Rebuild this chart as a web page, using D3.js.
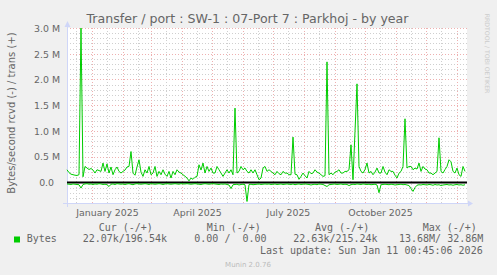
<!DOCTYPE html>
<html><head><meta charset="utf-8">
<script src="https://cdn.jsdelivr.net/npm/d3@7"></script>
<style>
html,body{margin:0;padding:0;background:#f0f0f0;}
svg{display:block;}
text{font-family:"DejaVu Sans";fill:#666666;}
.mono{font-family:"DejaVu Sans Mono";white-space:pre;}
</style></head><body>
<svg id="c" width="497" height="275"></svg>
<script>
// ---------- data ----------
const startDate = new Date(Date.UTC(2024, 11, 7, 0, 45, 6));
const spanDays = 400;
const dayStep = 2; // one sample every 2 days, starting at day 0
// trans (+), in k bytes/s
const trans = [
 246,190,160,150,140,135,150,3000,110,310,
 280,250,270,240,182,246,230,214,376,214,
 360,182,300,150,246,300,214,182,214,240,
 300,310,600,180,140,300,440,200,117,246,
 182,310,149,182,310,117,214,149,246,160,
 117,214,85,214,149,246,200,182,149,120,
 85,30,85,60,100,117,343,240,376,182,
 310,214,279,182,182,310,246,182,117,182,
 246,182,246,149,1443,182,214,310,246,279,
 214,182,246,182,246,149,52,85,279,310,
 214,246,214,182,149,214,170,149,214,180,
 182,150,149,880,160,149,60,117,182,130,
 85,214,170,182,246,200,182,150,117,130,
 2342,150,182,149,200,214,246,182,182,214,
 214,246,731,52,990,1915,310,214,182,250,
 376,182,214,149,200,279,182,182,310,200,
 149,246,214,214,140,85,180,214,310,1236,
 279,310,310,246,279,260,376,214,310,260,
 246,182,182,149,182,214,867,214,182,250,
 310,440,400,214,182,279,149,117,310,214
];
// rcvd (-), in k bytes/s (drawn negative)
const rcvd = [
 30,35,40,30,35,40,45,110,40,30,
 25,35,30,40,30,35,25,30,40,35,
 45,80,35,30,40,25,30,35,30,40,
 30,25,35,45,30,25,30,35,30,25,
 30,40,25,30,35,30,25,30,40,30,
 25,30,35,30,25,30,35,25,30,30,
 25,30,35,30,25,30,35,40,30,25,
 30,35,30,25,30,35,40,30,35,30,
 40,50,120,45,40,35,50,40,35,45,
 370,40,35,45,40,35,30,40,35,30,
 35,30,40,35,30,40,35,30,40,35,
 30,35,40,30,45,35,30,40,35,30,
 35,40,50,40,35,45,30,35,40,60,
 80,45,40,35,30,40,35,30,40,35,
 40,60,45,35,40,30,35,40,30,35,
 40,35,45,40,35,50,200,45,40,35,
 40,45,35,40,50,45,40,35,45,40,
 50,60,120,175,100,55,45,50,40,45,
 50,40,45,55,40,50,45,60,50,45,
 40,50,45,55,45,40,50,45,55,45
];
const yTickValues = [0, 500000, 1000000, 1500000, 2000000, 2500000, 3000000];
const xLabelMonths = ["2025-01-01", "2025-04-01", "2025-07-01", "2025-10-01"];
const titleText = "Transfer / port : SW-1 : 07-Port 7 : Parkhoj - by year";
const yAxisTitle = "Bytes/second rcvd (-) / trans (+)";
const legendHeaders = ["Cur (-/+)", "Min (-/+)", "Avg (-/+)", "Max (-/+)"];
const legendName = "Bytes";
const legendValues = ["22.07k/196.54k", "0.00 /  0.00", "22.63k/215.24k", "13.68M/ 32.86M"];
const lastUpdate = "Last update: Sun Jan 11 00:45:06 2026";
const footer = "Munin 2.0.76";
const sideText = "RRDTOOL / TOBI OETIKER";

// ---------- layout ----------
const L = 67, R = 467, T = 28, B = 203;
const GREEN = "#00CC00", AXIS = "#CFD6F8";
const endDate = d3.utcDay.offset(startDate, spanDays);
const dateOf = i => d3.utcDay.offset(startDate, i * dayStep);

const x = d3.scaleUtc().domain([startDate, endDate]).range([L, R]);
const y = d3.scaleLinear().domain([-400000, 3000000]).range([B, T]);

const svg = d3.select("#c");
svg.append("rect").attr("width", 497).attr("height", 275).attr("fill", "#f0f0f0");
svg.append("rect").attr("x", L).attr("y", T).attr("width", R - L).attr("height", B - T).attr("fill", "#ffffff");

const grid = svg.append("g");
// minor horizontal
d3.range(-400000, 3000001, 100000).filter(v => v % 500000 !== 0 && v > -400000).forEach(v => {
  grid.append("line").attr("x1", L).attr("x2", R).attr("y1", Math.round(y(v)) + 0.5).attr("y2", Math.round(y(v)) + 0.5)
    .attr("stroke", "#cfcfcf").attr("stroke-dasharray", "1,2");
});
// minor vertical (mid-month)
d3.utcMonth.range(startDate, endDate).map(m => d3.utcDay.offset(m, 15)).concat([d3.utcDay.offset(d3.utcMonth.floor(startDate), 15)])
  .filter(d => d > startDate && d < endDate).forEach(d => {
  const xx = Math.round(x(d)) + 0.5;
  grid.append("line").attr("x1", xx).attr("x2", xx).attr("y1", T).attr("y2", B)
    .attr("stroke", "#cfcfcf").attr("stroke-dasharray", "1,2");
});
// major horizontal
yTickValues.forEach(v => {
  grid.append("line").attr("x1", L).attr("x2", R).attr("y1", Math.round(y(v)) + 0.5).attr("y2", Math.round(y(v)) + 0.5)
    .attr("stroke", "#eeb0b0").attr("stroke-dasharray", "1,2");
});
// major vertical (month starts)
d3.utcMonth.range(startDate, endDate).forEach(d => {
  const xx = Math.round(x(d)) + 0.5;
  grid.append("line").attr("x1", xx).attr("x2", xx).attr("y1", T).attr("y2", B)
    .attr("stroke", "#eeb0b0").attr("stroke-dasharray", "1,2");
});

// axes lines + arrows
svg.append("line").attr("x1", L - 4).attr("x2", R + 2).attr("y1", B + 0.5).attr("y2", B + 0.5).attr("stroke", AXIS);
svg.append("line").attr("x1", L + 0.5).attr("x2", L + 0.5).attr("y1", B + 4).attr("y2", T - 3).attr("stroke", AXIS);
svg.append("path").attr("d", `M${R + 1},${B - 2.5} L${R + 6},${B + 0.5} L${R + 1},${B + 3.5} Z`).attr("fill", AXIS);
svg.append("path").attr("d", `M${L - 2.5},${T - 1} L${L + 0.5},${T - 7} L${L + 3.5},${T - 1} Z`).attr("fill", AXIS);

// y tick labels
const fmtY = v => v === 0 ? "0.0\u00a0\u00a0" : d3.format(".1f")(v / 1e6) + " M";
const yAxis = d3.axisLeft(y).tickValues(yTickValues).tickFormat(fmtY).tickSize(0).tickPadding(0);
const gy = svg.append("g").attr("transform", `translate(60,0)`).call(yAxis);
gy.select(".domain").remove();
gy.selectAll("text").attr("font-family", "DejaVu Sans").attr("font-size", 9.4).attr("fill", "#666666").attr("dy", "0.35em");

// x labels (centered mid-month)
const xLabelDates = xLabelMonths.map(s => d3.utcDay.offset(new Date(s + "T00:00:00Z"), 15));
const xAxis = d3.axisBottom(x).tickValues(xLabelDates).tickFormat(d3.utcFormat("%B %Y")).tickSize(0).tickPadding(0);
const gx = svg.append("g").attr("transform", `translate(0,${B})`).call(xAxis);
gx.select(".domain").remove();
gx.selectAll("text").attr("font-family", "DejaVu Sans").attr("font-size", 9.4).attr("fill", "#666666").attr("dy", "0").attr("y", 13);

// zero rule
svg.append("line").attr("x1", L).attr("x2", R).attr("y1", y(0)).attr("y2", y(0)).attr("stroke", "#000").attr("stroke-width", 2);

// series
const lineGen = d3.line().x((d, i) => x(dateOf(i))).y(d => y(d));
svg.append("path").datum(rcvd.map(v => -v * 1000)).attr("d", lineGen).attr("fill", "none").attr("stroke", GREEN).attr("stroke-width", 1);
svg.append("path").datum(trans.map(v => v * 1000)).attr("d", lineGen).attr("fill", "none").attr("stroke", GREEN).attr("stroke-width", 1);

// title
svg.append("text").attr("x", 247.5).attr("y", 23).attr("text-anchor", "middle").attr("font-size", 12.6).text(titleText);
// y axis title
svg.append("text").attr("transform", "translate(15,113) rotate(-90)").attr("text-anchor", "middle").attr("font-size", 10).text(yAxisTitle);
// side text
svg.append("text").attr("transform", "translate(485,53.5) rotate(90)").attr("text-anchor", "middle").attr("font-size", 6.2).style("fill", "#cccccc").text(sideText);

// legend
const headX = [98.7, 206.7, 315, 422.7];
legendHeaders.forEach((h, i) => svg.append("text").attr("class", "mono").attr("x", headX[i]).attr("y", 230.5).attr("font-size", 10).text(h));
svg.append("rect").attr("x", 14).attr("y", 236.5).attr("width", 6).attr("height", 6).attr("fill", GREEN);
svg.append("text").attr("class", "mono").attr("x", 26.7).attr("y", 242.3).attr("font-size", 10).text(legendName);
const valX = [82.7, 194.3, 293.3, 399];
legendValues.forEach((v, i) => svg.append("text").attr("class", "mono").attr("x", valX[i]).attr("y", 242.3).attr("font-size", 10).text(v));
svg.append("text").attr("class", "mono").attr("x", 482.7).attr("y", 254).attr("text-anchor", "end").attr("font-size", 10).text(lastUpdate);
svg.append("text").attr("x", 248).attr("y", 267).attr("text-anchor", "middle").attr("font-size", 7).style("fill", "#bbbbbb").text(footer);
</script>
</body></html>
